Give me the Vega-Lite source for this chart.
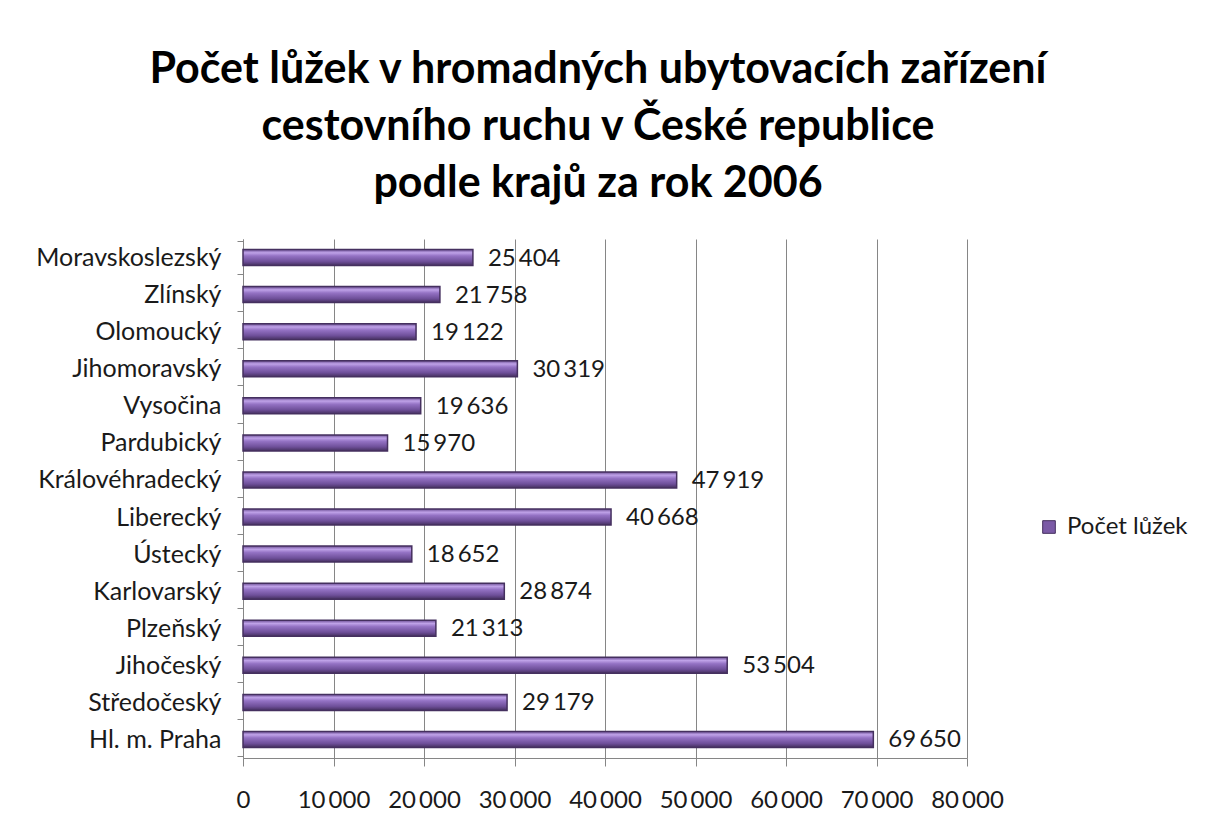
{
  "$schema": "https://vega.github.io/schema/vega-lite/v6.json",
  "autosize": "none",
  "width": 724,
  "height": 519,
  "padding": {"left": 243, "top": 239, "right": 238, "bottom": 81},
  "background": "white",
  "title": {
    "text": ["Počet lůžek v hromadných ubytovacích zařízení", "cestovního ruchu v České republice", "podle krajů za rok 2006"],
    "font": "Lato",
    "fontSize": 43,
    "fontWeight": "bold",
    "color": "#000000",
    "lineHeight": 57,
    "anchor": "middle",
    "dx": -7,
    "offset": 21
  },
  "data": {
    "values": [
      {"kraj": "Moravskoslezský", "lozka": 25404},
      {"kraj": "Zlínský", "lozka": 21758},
      {"kraj": "Olomoucký", "lozka": 19122},
      {"kraj": "Jihomoravský", "lozka": 30319},
      {"kraj": "Vysočina", "lozka": 19636},
      {"kraj": "Pardubický", "lozka": 15970},
      {"kraj": "Královéhradecký", "lozka": 47919},
      {"kraj": "Liberecký", "lozka": 40668},
      {"kraj": "Ústecký", "lozka": 18652},
      {"kraj": "Karlovarský", "lozka": 28874},
      {"kraj": "Plzeňský", "lozka": 21313},
      {"kraj": "Jihočeský", "lozka": 53504},
      {"kraj": "Středočeský", "lozka": 29179},
      {"kraj": "Hl. m. Praha", "lozka": 69650}
    ]
  },
  "encoding": {
    "y": {
      "field": "kraj",
      "type": "nominal",
      "sort": null,
      "title": null,
      "axis": {
        "labelFont": "Lato",
        "labelFontSize": 25,
        "labelColor": "#1a1a1a",
        "labelPadding": 16,
        "labelLimit": 0,
        "tickBand": "extent",
        "tickSize": 6,
        "tickColor": "#868686",
        "domainColor": "#868686",
        "grid": false
      }
    },
    "x": {
      "field": "lozka",
      "type": "quantitative",
      "title": null,
      "scale": {"domain": [0, 80000], "nice": false},
      "axis": {
        "values": [0, 10000, 20000, 30000, 40000, 50000, 60000, 70000, 80000],
        "format": ",d",
        "labelFont": "Lato",
        "labelFontSize": 24,
        "labelColor": "#1a1a1a",
        "labelPadding": 22,
        "tickSize": 8,
        "tickColor": "#868686",
        "domainColor": "#868686",
        "grid": true,
        "gridColor": "#868686",
        "gridOpacity": 1,
        "labelFlush": false,
        "labelOverlap": false
      }
    }
  },
  "layer": [
    {
      "mark": {
        "type": "bar",
        "size": 16,
        "stroke": "#45305f",
        "strokeWidth": 1.5,
        "fill": {
          "gradient": "linear",
          "x1": 0, "y1": 0, "x2": 0, "y2": 1,
          "stops": [
            {"offset": 0, "color": "#6a4c92"},
            {"offset": 0.2, "color": "#bfa2e8"},
            {"offset": 0.4, "color": "#9472c4"},
            {"offset": 0.75, "color": "#6e4f99"},
            {"offset": 1, "color": "#45305f"}
          ]
        }
      }
    },
    {
      "mark": {"type": "point", "shape": "square", "filled": true, "size": 0, "opacity": 1},
      "encoding": {
        "color": {
          "datum": "Počet lůžek",
          "type": "nominal",
          "scale": {"range": ["#7b5aa6"]},
          "legend": {
            "title": null,
            "orient": "none",
            "legendX": 794,
            "legendY": 276,
            "symbolType": "square",
            "symbolSize": 160,
            "symbolOpacity": 1,
            "symbolStrokeColor": "#45305f",
            "symbolStrokeWidth": 1,
            "labelFont": "Lato",
            "labelFontSize": 24,
            "labelColor": "#1a1a1a",
            "labelOffset": 6
          }
        }
      }
    },
    {
      "mark": {"type": "text", "align": "left", "baseline": "middle", "dx": 15, "dy": 1, "font": "Lato", "fontSize": 24, "color": "#1a1a1a"},
      "encoding": {
        "text": {"field": "lozka", "type": "quantitative", "format": ",d"}
      }
    }
  ],
  "config": {
    "locale": {
      "number": {"decimal": ",", "thousands": "\u2009", "grouping": [3], "currency": ["", " Kč"]}
    },
    "view": {"stroke": null}
  }
}
